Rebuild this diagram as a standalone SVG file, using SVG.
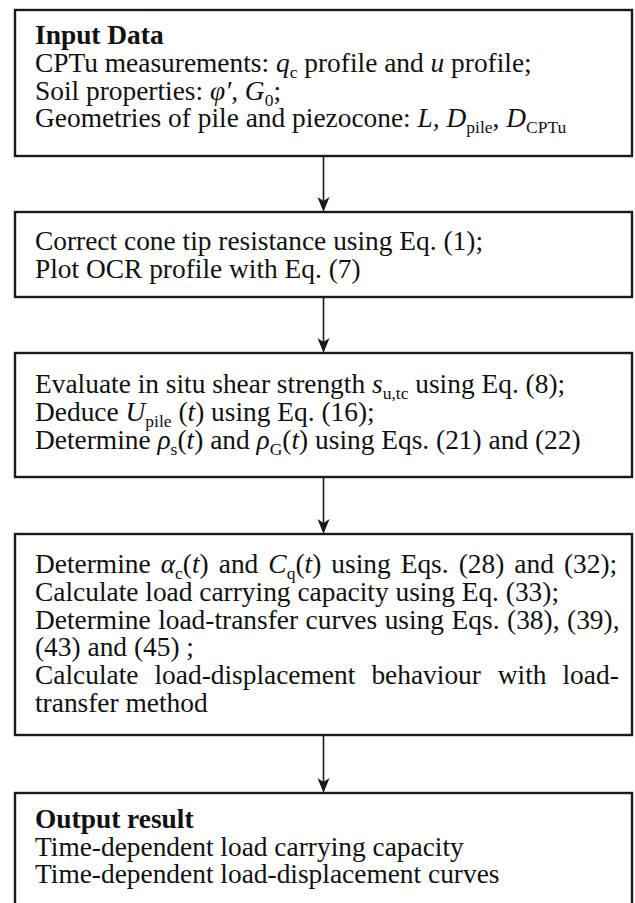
<svg xmlns="http://www.w3.org/2000/svg" width="635" height="903" viewBox="0 0 635 903">
<style>
.box{fill:#fff;stroke:#1a1a1a;stroke-width:2.4}
text{font-family:"Liberation Serif","Times New Roman",serif;font-size:27.4px;fill:#111}
.b{font-weight:bold}
.i{font-style:italic}
.s{font-size:17.5px}
.line{stroke:#1a1a1a;stroke-width:1.6;fill:none}
.head{fill:#1a1a1a}
</style>
<rect width="635" height="903" fill="#fff"/>
<g id="connectors">
<line class="line" x1="323.5" y1="157" x2="323.5" y2="205"/>
<polygon class="head" points="317.5,197 323.5,212 329.5,197 323.5,201"/>
<line class="line" x1="323.5" y1="298" x2="323.5" y2="346"/>
<polygon class="head" points="317.5,338 323.5,353 329.5,338 323.5,342"/>
<line class="line" x1="323.5" y1="478" x2="323.5" y2="527"/>
<polygon class="head" points="317.5,519 323.5,534 329.5,519 323.5,523"/>
<line class="line" x1="323.5" y1="736" x2="323.5" y2="786"/>
<polygon class="head" points="317.5,778 323.5,793 329.5,778 323.5,782"/>
</g>
<g id="input-data">
<rect class="box" x="15" y="10" width="617" height="146"/>
<text x="35" y="44" class="b">Input Data</text>
<text x="35" y="72">CPTu measurements: <tspan class="i">q</tspan><tspan class="s" dy="5.5">c</tspan><tspan dy="-5.5"> profile and </tspan><tspan class="i">u</tspan> profile;</text>
<text x="35" y="100">Soil properties: <tspan class="i">φ′</tspan>, <tspan class="i">G</tspan><tspan class="s" dy="5.5">0</tspan><tspan dy="-5.5">;</tspan></text>
<text x="35" y="127">Geometries of pile and piezocone: <tspan class="i">L, D</tspan><tspan class="s" dy="5.5">pile</tspan><tspan dy="-5.5">, </tspan><tspan class="i">D</tspan><tspan class="s" dy="5.5">CPTu</tspan></text>
</g>
<g id="correct-cone">
<rect class="box" x="15" y="212" width="617" height="85"/>
<text x="35" y="250">Correct cone tip resistance using Eq. (1);</text>
<text x="35" y="278">Plot OCR profile with Eq. (7)</text>
</g>
<g id="evaluate-strength">
<rect class="box" x="15" y="353" width="617" height="124"/>
<text x="35" y="393">Evaluate in situ shear strength <tspan class="i">s</tspan><tspan class="s" dy="5.5">u,tc</tspan><tspan dy="-5.5"> using Eq. (8);</tspan></text>
<text x="35" y="421">Deduce <tspan class="i">U</tspan><tspan class="s" dy="5.5">pile</tspan><tspan dy="-5.5"> (</tspan><tspan class="i">t</tspan>) using Eq. (16);</text>
<text x="35" y="449">Determine <tspan class="i">ρ</tspan><tspan class="s" dy="5.5">s</tspan><tspan dy="-5.5">(</tspan><tspan class="i">t</tspan>) and <tspan class="i">ρ</tspan><tspan class="s" dy="5.5">G</tspan><tspan dy="-5.5">(</tspan><tspan class="i">t</tspan>) using Eqs. (21) and (22)</text>
</g>
<g id="determine-capacity">
<rect class="box" x="15" y="534" width="617" height="201"/>
<text x="35" y="573" word-spacing="3.2">Determine <tspan class="i">α</tspan><tspan class="s" dy="5.5">c</tspan><tspan dy="-5.5">(</tspan><tspan class="i">t</tspan>) and <tspan class="i">C</tspan><tspan class="s" dy="5.5">q</tspan><tspan dy="-5.5">(</tspan><tspan class="i">t</tspan>) using Eqs. (28) and (32);</text>
<text x="35" y="601">Calculate load carrying capacity using Eq. (33);</text>
<text x="35" y="629" word-spacing="0.7">Determine load-transfer curves using Eqs. (38), (39),</text>
<text x="35" y="656">(43) and (45) ;</text>
<text y="684"><tspan x="35">Calculate</tspan><tspan x="154.5">load-displacement</tspan><tspan x="371.4">behaviour</tspan><tspan x="497.8">with</tspan><tspan x="562.5">load-</tspan></text>
<text x="35" y="712">transfer method</text>
</g>
<g id="output-result">
<rect class="box" x="15" y="793" width="617" height="130"/>
<text x="35" y="828" class="b">Output result</text>
<text x="35" y="856">Time-dependent load carrying capacity</text>
<text x="35" y="883">Time-dependent load-displacement curves</text>
</g>
</svg>
